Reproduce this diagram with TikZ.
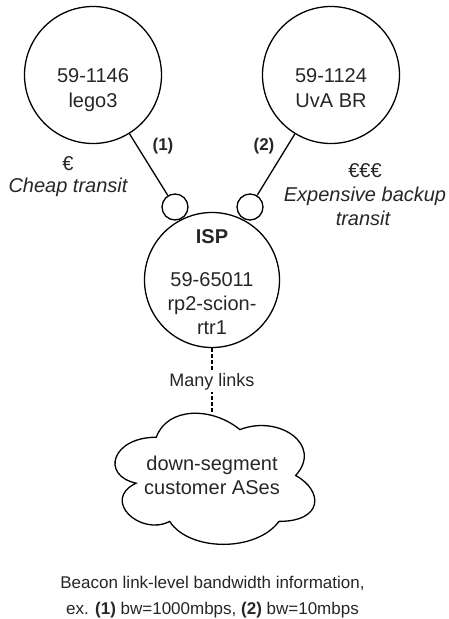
\documentclass[tikz,border=0pt]{standalone}
\usepackage{fontspec}
\setmainfont{Liberation Sans}
\definecolor{txtc}{HTML}{262626}
\tikzset{
  asnode/.style={circle, draw=black, line width=1.3pt, inner sep=0pt},
  portnode/.style={circle, draw=black, line width=1.3pt, inner sep=0pt, minimum size=26pt},
  big/.style={anchor=base, inner sep=0pt, text=txtc, font=\fontsize{20}{24}\selectfont},
  bigit/.style={big, font=\fontsize{20}{24}\selectfont\itshape},
  bigbf/.style={big, font=\fontsize{20}{24}\selectfont\bfseries},
  lbl/.style={anchor=base, inner sep=0pt, text=txtc, font=\fontsize{17}{20}\selectfont\bfseries},
  small/.style={anchor=base, inner sep=0pt, text=txtc, font=\fontsize{17}{20}\selectfont},
  link/.style={draw=black, line width=1.3pt},
  manylink/.style={draw=black, line width=1.5pt, dash pattern=on 3.5pt off 2.5pt},
}
\begin{document}
\begin{tikzpicture}[x=1pt,y=-1pt]
\useasboundingbox (0,0) rectangle (448,619);
% AS circles
\node[asnode, minimum size=137pt] (lego) at (93,75) {};
\node[asnode, minimum size=137pt] (uva) at (331,75) {};
\node[asnode, minimum size=135pt] (isp) at (212,280) {};
\node[portnode] (p1) at (175,207) {};
\node[portnode] (p2) at (250,207) {};
% circle texts
\node[big] (legoa) at (93,82) {59-1146};
\node[big] (legob) at (93,107) {lego3};
\node[big] (uvaa) at (331,82) {59-1124};
\node[big] (uvab) at (331,107) {UvA BR};
\node[bigbf] (ispa) at (212,243) {ISP};
\node[big] (ispb) at (212,286) {59-65011};
\node[big] (ispc) at (212,310) {rp2-scion-};
\node[big] (ispd) at (212,334) {rtr1};
% links
\draw[link] (lego) -- (p1);
\draw[link] (uva) -- (p2);
\node[lbl] (l1) at (163,150) {(1)};
\node[lbl] (l2) at (264,150) {(2)};
% side labels
\node[big] (eur1) at (68,170) {€};
\node[bigit] (cheap) at (68,192) {Cheap transit};
\node[big] (eur3) at (365,177) {€€€};
\node[bigit] (exp1) at (365,201) {Expensive backup};
\node[bigit] (exp2) at (363,225) {transit};
% cloud
\begin{scope}[xshift=100.5pt, yshift=-399pt, x=223pt, y=-153pt]
\draw[line width=1.3pt] (.25,.25) .. controls (.05,.25) and (0,.5) .. (.16,.55)
  .. controls (0,.66) and (.18,.9) .. (.31,.8)
  .. controls (.4,1) and (.7,1) .. (.8,.8)
  .. controls (1,.8) and (1,.6) .. (.875,.5)
  .. controls (1,.3) and (.8,.1) .. (.625,.2)
  .. controls (.5,.05) and (.3,.05) .. (.25,.25) -- cycle;
\end{scope}
\coordinate (cloudtop) at (212,414);
\node[big] (cla) at (212,470) {down-segment};
\node[big] (clb) at (212,494) {customer ASes};
% many links
\draw[manylink] (isp) -- (cloudtop);
\node[anchor=base, fill=white, inner sep=2pt, text=txtc, font=\fontsize{18}{20}\selectfont] (many) at (212,386) {Many links};
% bottom caption
\node[small] (cap1) at (212.5,588) {Beacon link-level bandwidth information,};
\node[small] (cap2) at (212.5,614) {ex. \textbf{(1)} bw=1000mbps, \textbf{(2)} bw=10mbps};
\end{tikzpicture}
\end{document}
